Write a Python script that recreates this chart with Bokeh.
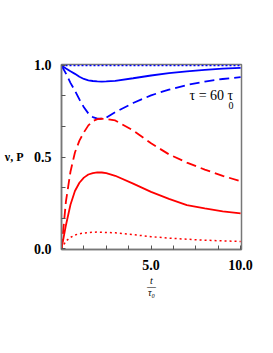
from bokeh.plotting import figure
from bokeh.models import FixedTicker, Label, Range1d, LinearAxis
from bokeh.embed import file_html
from bokeh.resources import INLINE

# ---- data ----
t = [0, 0.25, 0.5, 0.75, 1.0, 1.25, 1.5, 1.75, 2.0, 2.25, 2.5, 3.0, 4.0, 5.0, 6.0, 7.0, 8.0, 9.0, 10.0]
blue_dotted = [1.0] * len(t)
blue_solid = [1.0, 0.983, 0.968, 0.954, 0.938, 0.926, 0.919, 0.915, 0.913, 0.912, 0.913, 0.916, 0.93, 0.945, 0.958, 0.968, 0.976, 0.982, 0.987]
blue_dashed = [1.0, 0.955, 0.905, 0.862, 0.815, 0.772, 0.738, 0.718, 0.71, 0.709, 0.715, 0.745, 0.795, 0.837, 0.868, 0.893, 0.912, 0.926, 0.936]
red_dashed = [0.0, 0.26, 0.42, 0.525, 0.59, 0.635, 0.673, 0.696, 0.707, 0.709, 0.708, 0.70, 0.645, 0.575, 0.515, 0.47, 0.432, 0.398, 0.368]
red_solid = [0.0, 0.13, 0.24, 0.315, 0.36, 0.388, 0.405, 0.413, 0.417, 0.416, 0.412, 0.398, 0.355, 0.31, 0.272, 0.238, 0.22, 0.204, 0.193]
red_dotted = [0.0, 0.042, 0.062, 0.075, 0.082, 0.086, 0.088, 0.09, 0.091, 0.09, 0.089, 0.087, 0.077, 0.066, 0.058, 0.052, 0.047, 0.043, 0.04]

x_major = [5.0, 10.0]
x_minor = [1.25, 2.5, 3.75, 6.25, 7.5, 8.75]
y_major = [0.0, 0.5, 1.0]
y_minor = [1/6, 1/3, 2/3, 5/6]
y_label_at = 0.5

BLUE = "#0000ff"
RED = "#ff0000"
SERIF = "Liberation Serif"

p = figure(frame_width=180, frame_height=185, output_backend="svg", toolbar_location=None,
           x_range=Range1d(0, 10.05), y_range=Range1d(-0.004, 1.005),
           min_border_left=61, min_border_right=24, min_border_top=64, min_border_bottom=80)
p.xgrid.visible = False
p.ygrid.visible = False
p.outline_line_color = "#777777"
p.outline_line_width = 1.5
p.background_fill_color = "white"
p.border_fill_color = "white"

p.xaxis.ticker = FixedTicker(ticks=x_major, minor_ticks=x_minor)
p.yaxis.ticker = FixedTicker(ticks=y_major, minor_ticks=y_minor)
p.xaxis.major_label_overrides = {5.0: "5.0", 10.0: "10.0"}
p.yaxis.major_label_overrides = {0.0: "0.0", 0.5: "0.5", 1.0: "1.0"}
for ax in (p.xaxis[0], p.yaxis[0]):
    ax.axis_line_color = "#777777"
    ax.axis_line_width = 1.5
    ax.major_tick_in = 4
    ax.major_tick_out = 0
    ax.minor_tick_in = 4
    ax.minor_tick_out = 0
    ax.major_tick_line_color = "#555555"
    ax.minor_tick_line_color = "#555555"
    ax.major_label_text_font = SERIF
    ax.major_label_text_font_style = "bold"
    ax.major_label_text_font_size = "14px"
    ax.major_label_text_color = "black"
p.xaxis.major_label_standoff = 10
p.yaxis.major_label_standoff = 10

# x axis label: stacked fraction t / τ0
p.xaxis.axis_label = "t\n\u2014\n\u03c4\u2080"
p.xaxis.axis_label_text_font = SERIF
p.xaxis.axis_label_text_font_size = "10px"
p.xaxis.axis_label_text_font_style = "italic"
p.xaxis.axis_label_text_color = "black"
p.xaxis.axis_label_text_line_height = 0.55
p.xaxis.axis_label_standoff = 2

# y label "ν, P" as a second, bare left axis with a single label at 0.5
lab_axis = LinearAxis(ticker=FixedTicker(ticks=[y_label_at], minor_ticks=[]),
                      major_label_overrides={y_label_at: "\u03bd, P"})
lab_axis.axis_line_color = None
lab_axis.major_tick_line_color = None
lab_axis.minor_tick_line_color = None
lab_axis.major_tick_in = 0
lab_axis.major_tick_out = 0
lab_axis.major_label_standoff = 7
lab_axis.major_label_text_font = SERIF
lab_axis.major_label_text_font_style = "bold"
lab_axis.major_label_text_font_size = "12px"
lab_axis.major_label_text_color = "black"
p.add_layout(lab_axis, "left")

p.line(t, blue_dotted, line_color=BLUE, line_width=1.5, line_dash="2 2")
p.line(t, blue_solid, line_color=BLUE, line_width=1.8)
p.line(t, blue_dashed, line_color=BLUE, line_width=1.8, line_dash="10 5")
p.line(t, red_dashed, line_color=RED, line_width=1.8, line_dash="10 5")
p.line(t, red_solid, line_color=RED, line_width=1.8)
p.line(t, red_dotted, line_color=RED, line_width=1.5, line_dash="2 3")

def lab(x, y, text, size, style="normal", align="left", baseline="middle"):
    p.add_layout(Label(x=x, y=y, text=text, text_font=SERIF, text_font_size=size,
                       text_font_style=style, text_align=align, text_baseline=baseline,
                       text_color="black"))

# annotation
lab(7.15, 0.836, "\u03c4 = 60 \u03c4", "14px")
lab(9.33, 0.78, "0", "10px")

open("out.html", "w").write(file_html(p, INLINE))
